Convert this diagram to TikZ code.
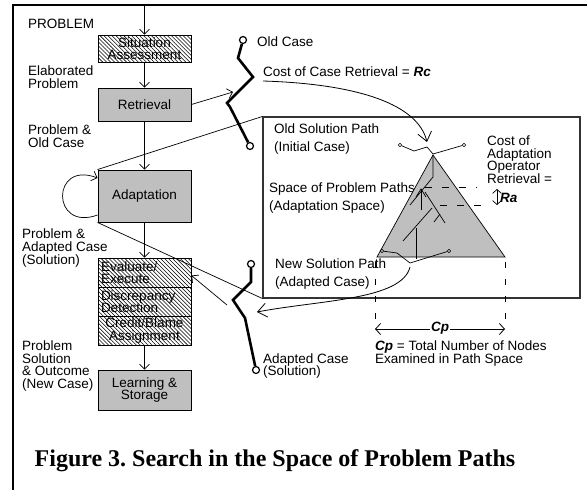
\documentclass[tikz,border=0pt]{standalone}
\usepackage{fontspec}
\setmainfont{Liberation Sans}
\newfontfamily\capfont{Liberation Serif}
\usetikzlibrary{patterns.meta,arrows.meta}
\frenchspacing
\begin{document}
\begin{tikzpicture}[x=1pt,y=-1pt]
\tikzstyle{every node}+=[inner sep=0pt, font=\fontsize{13.5}{12.6}\selectfont]
\tikzstyle{stage}=[draw, line width=0.9pt, fill=gray!50, minimum width=93pt, align=center]
\tikzstyle{hatch}=[draw, line width=0.9pt, pattern={Lines[angle=-45,distance=2.8pt,line width=0.55pt]}, minimum width=93pt, align=left]
\tikzstyle{lbl}=[anchor=west, align=left]
\tikzstyle{arr}=[-{Straight Barb[length=5pt,width=10pt]}, line width=0.7pt]
\tikzstyle{bigarr}=[-{Straight Barb[length=9pt,width=14pt]}, line width=0.8pt]
\tikzstyle{zig}=[line width=2.6pt, line join=miter]
\tikzstyle{endpt}=[draw, circle, line width=1.2pt, minimum size=7pt]
\tikzstyle{tip}=[draw, circle, line width=0.6pt, minimum size=3.5pt]
\tikzstyle{dashline}=[dash pattern=on 7pt off 10pt, line width=0.6pt]
\useasboundingbox (0,0) rectangle (587,490);
\draw [line width=2pt] (13,490) -- (13,5) -- (587,5);
\coordinate (in) at (144.5,5);
\node [hatch, minimum height=27pt, align=center] (sit) at (144.5,48.5) {Situation\\Assessment};
\node [stage, minimum height=33pt] (ret) at (144.5,104.5) {Retrieval};
\node [stage, minimum height=52pt] (adp) at (144.5,196) {Adaptation};
\node [hatch, minimum height=29pt, text width=87pt] (eva) at (144.5,272.5) {Evaluate/\\Execute};
\node [hatch, minimum height=29pt, text width=87pt] (dis) at (144.5,301.5) {Discrepancy\\Detection};
\node [hatch, minimum height=29pt, align=center] (cre) at (144.5,330.5) {Credit/Blame\\Assignment};
\node [stage, minimum height=40pt] (lrn) at (144.5,390) {Learning \&\\Storage};
\draw [arr] (in) -- (sit);
\draw [arr] (sit) -- (ret);
\draw [arr] (ret) -- (adp);
\draw [arr] (adp) -- (eva);
\draw [arr] (cre) -- (lrn);
\draw [arr] ([yshift=-19pt]adp.west) .. controls (51,232) and (51,160) .. ([yshift=18pt]adp.west);
\node [lbl] (lp0) at (28,24) {PROBLEM};
\node [lbl] (lp1) at (28,77) {Elaborated\\Problem};
\node [lbl] (lp2) at (28,136) {Problem \&\\Old Case};
\node [lbl] (lp3) at (22,248) {Problem \&\\Adapted Case\\(Solution)};
\node [lbl] (lp4) at (22,366) {Problem\\Solution\\\& Outcome\\(New Case)};
\node [draw=gray!40!black, line width=1.1pt, minimum width=317pt, minimum height=181pt] (space) at (421.5,207.5) {};
\draw [line width=0.7pt] (adp.north west) -- (space.north west);
\draw [line width=0.7pt] (adp.south west) -- (space.south west);
\node [endpt] (oc) at (243,40) {};
\node [endpt] (oi) at (250,146) {};
\draw [zig] (oc) -- (238,58) -- (253,77) -- (227,103) -- (230,107) -- (oi);
\node [lbl] (oclbl) at (257,42) {Old Case};
\node [lbl] (rclbl) at (263,72) {Cost of Case Retrieval = \textbf{\textit{Rc}}};
\coordinate (rcin) at (233,92);
\draw [arr] (ret.east) -- (rcin);
\coordinate (rcout) at (263,81);
\coordinate (apexin) at (427,142);
\draw [bigarr] (rcout) .. controls (360,84) and (418,105) .. (apexin);
\node [lbl, align=left, font=\fontsize{13.5}{18}\selectfont] (osp) at (274,139) {Old Solution Path\\(Initial Case)};
\node [lbl, align=left, font=\fontsize{13.5}{18}\selectfont] (spp) at (269,198) {Space of Problem Paths\\(Adaptation Space)};
\node [lbl, align=left, font=\fontsize{13.5}{18}\selectfont] (nsp) at (275,274) {New Solution Path\\(Adapted Case)};
\draw [line width=0.7pt, fill=gray!50] (433,155) -- (377,257) -- (505,257) -- cycle;
\node [tip] (t1) at (400,145) {};
\node [tip] (t2) at (464,145) {};
\node [tip] (t3) at (382,251) {};
\node [tip] (t4) at (449,251) {};
\draw [line width=0.7pt] (t1) -- (414,151) -- (427,147) -- (433,154) -- (t2);
\draw [line width=0.7pt] (433,155) -- (433,177) -- (410,205);
\draw [line width=0.7pt] (416,197) -- (421,189) -- (426,197);
\draw [line width=0.7pt] (421,189) -- (421,210);
\draw [line width=0.7pt] (425,192) -- (445,223);
\draw [line width=0.7pt] (434,222) -- (440,214);
\draw [line width=0.7pt] (403,241) -- (432,208);
\draw [line width=0.7pt] (416,228) -- (416,259);
\draw [line width=0.7pt] (t3) -- (397,253) -- (410,263) -- (t4);
\draw [dashline] (425,187) -- (477,187);
\draw [dashline] (440,205) -- (487,205);
\node [lbl] (calbl) at (487,159.5) {Cost of\\Adaptation\\Operator\\Retrieval =};
\draw [{Straight Barb[length=4pt,width=9pt]}-{Straight Barb[length=4pt,width=9pt]}, line width=0.7pt] (497,189) -- (497,205);
\node [lbl] (ralbl) at (500,197.5) {\textbf{\textit{Ra}}};
\coordinate (nsout) at (410,267);
\coordinate (nsin) at (257,312);
\draw [bigarr] (nsout) .. controls (402,300) and (320,300) .. (nsin);
\node [endpt] (na) at (251,264) {};
\node [endpt] (ns) at (256,370) {};
\draw [zig] (na) -- (251,282) -- (233,300) -- (245,318) -- (ns);
\node [lbl] (aclbl) at (263,366) {Adapted Case\\(Solution)};
\coordinate (evout) at (227,305);
\draw [arr] (evout) -- ([yshift=-3pt]eva.east);
\draw [dashline, dash pattern=on 6pt off 11pt] (375,262) -- (375,325);
\draw [dashline, dash pattern=on 6pt off 11pt] (505,262) -- (505,325);
\coordinate (cpl) at (375,329);
\coordinate (cpr) at (505,329);
\draw [{Straight Barb[length=5pt,width=11pt]}-{Straight Barb[length=5pt,width=11pt]}, line width=0.8pt] (cpl) -- (cpr);
\node [fill=white, inner sep=1pt] (cplbl) at (440,328) {\textbf{\textit{Cp}}};
\node [lbl] (cpnote) at (375,353.5) {\textbf{\textit{Cp}} = Total Number of Nodes\\Examined in Path Space};
\node (caption) at (275,461) {\capfont\bfseries\fontsize{24}{24}\selectfont Figure 3. Search in the Space of Problem Paths};
\end{tikzpicture}
\end{document}
